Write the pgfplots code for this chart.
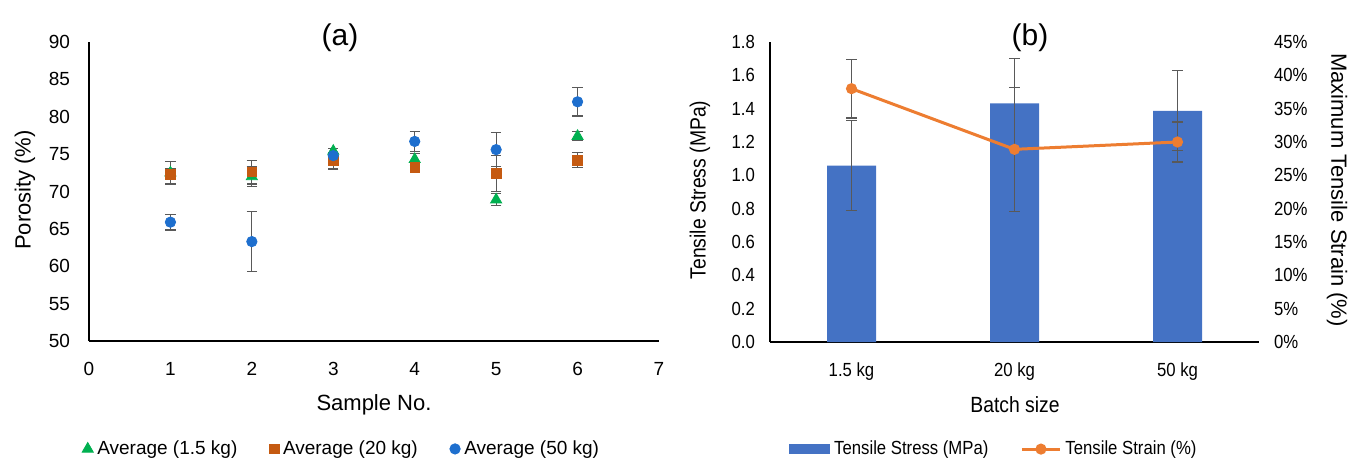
\documentclass[border=0pt]{standalone}
\usepackage{fontspec}
\setmainfont{Liberation Sans}
\usepackage{pgfplots}
\pgfplotsset{compat=1.18}
\definecolor{cgreen}{HTML}{00B050}
\definecolor{corange}{HTML}{C55A11}
\definecolor{cblue}{HTML}{1E6FCE}
\definecolor{barblue}{HTML}{4472C4}
\definecolor{lorange}{HTML}{ED7D31}
\definecolor{ebar}{HTML}{595959}
\newcommand{\tfont}{\fontsize{9.5}{11}\selectfont}
\newcommand{\nar}[1]{\scalebox{0.88}[1]{#1}}
\pgfplotsset{
  common/.style={
    scale only axis, clip=false,
    major tick length=0pt,
    tick label style={font=\tfont, black},
    /pgf/number format/assume math mode=true,
    legend style={draw=none, font=\tfont, /tikz/every even column/.append style={column sep=14pt}},
    legend cell align=left,
  },
  ebars/.style={/pgfplots/error bars/.cd, y dir=both, y explicit,
    error bar style={ebar, line width=0.6pt},
    error mark options={ebar, rotate=90, mark size=2.6pt, line width=0.6pt}, /pgfplots/.cd},
}
\begin{document}
\begin{tikzpicture}
\useasboundingbox (0,0) rectangle (676.5pt,-229.5pt);
\clip (0,0) rectangle (676.5pt,-229.5pt);
% ---------- (a) ----------
\begin{axis}[common,
  at={(44.5pt,-170.5pt)}, anchor=south west,
  width=285pt, height=149.5pt,
  xmin=0, xmax=7, ymin=50, ymax=90,
  axis x line=bottom, axis y line=left,
  axis line style={-, line width=1pt, black},
  xtick={0,1,2,3,4,5,6,7}, ytick={50,55,60,65,70,75,80,85,90},
  xticklabel style={yshift=-7pt}, yticklabel style={xshift=-6pt},
  legend columns=3,
  legend style={at={(0.445,-0.361)}, anchor=center},
]
\addplot[only marks, mark=triangle*, mark size=3.2pt, color=cgreen, ebars]
 coordinates {(1,72.5) +- (0,1.5) (2,72.0) +- (0,1.3) (3,75.4) +- (0,0.3)
              (4,74.3) +- (0,0.8) (5,68.9) +- (0,0.8) (6,77.4) +- (0,0.6)};
\addlegendentry{Average (1.5 kg)}
\addplot[only marks, mark=square*, mark size=2.4pt, color=corange, ebars]
 coordinates {(1,72.3) +- (0,0.7) (2,72.6) +- (0,1.6) (3,74.1) +- (0,1.1)
              (4,73.2) +- (0,0.3) (5,72.4) +- (0,2.4) (6,74.2) +- (0,1.0)};
\addlegendentry{Average (20 kg)}
\addplot[only marks, mark=*, mark size=2.6pt, color=cblue, ebars]
 coordinates {(1,65.9) +- (0,1.05) (2,63.3) +- (0,4.0) (3,74.8) +- (0,0.4)
              (4,76.7) +- (0,1.3) (5,75.6) +- (0,2.3) (6,82.0) +- (0,1.9)};
\addlegendentry{Average (50 kg)}
\end{axis}
% ---------- (b) ----------
\begin{axis}[common,
  at={(385pt,-171pt)}, anchor=south west,
  width=244.5pt, height=150pt,
  xmin=0, xmax=3, ymin=0, ymax=1.8,
  axis x line=bottom, axis y line=left,
  axis line style={-, line width=1pt, black},
  xtick={0.5,1.5,2.5}, xticklabels={\nar{1.5 kg},\nar{20 kg},\nar{50 kg}},
  ytick={0,0.2,0.4,0.6,0.8,1.0,1.2,1.4,1.6,1.8},
  yticklabel={\nar{\pgfmathprintnumber[fixed, fixed zerofill, precision=1]{\tick}}},
  yticklabel style={xshift=-4pt},
  xticklabel style={yshift=-7pt},
]
\addplot[ybar, bar width=24.5pt, fill=barblue, draw=none, ebars]
 coordinates {(0.5,1.058) +- (0,0.27) (1.5,1.432) +- (0,0.27) (2.5,1.387) +- (0,0.24)};
\end{axis}
\begin{axis}[common,
  at={(385pt,-171pt)}, anchor=south west,
  width=244.5pt, height=150pt,
  xmin=0, xmax=3, ymin=0, ymax=45,
  axis x line=none, axis y line=right,
  axis line style={draw=none},
  ytick={0,5,10,15,20,25,30,35,40,45},
  yticklabel={\nar{\pgfmathprintnumber{\tick}\%}},
  yticklabel style={xshift=4pt},
  legend columns=2,
  legend style={at={(0.46,-0.357)}, anchor=center},
]
\addlegendimage{legend image code/.code={\fill[barblue] (0pt,-2.2pt) rectangle (20pt,2.2pt);}}
\addlegendentry{\nar{Tensile Stress (MPa)}}
\addplot[lorange, line width=1.5pt, mark=*, mark size=2pt,
  legend image code/.code={\draw[mark repeat=2,mark phase=2] plot coordinates {(0pt,0pt)(9.5pt,0pt)(19pt,0pt)};}, ebars]
 coordinates {(0.5,38.0) +- (0,4.4) (1.5,28.9) +- (0,9.3) (2.5,30.0) +- (0,3.0)};
\addlegendentry{\nar{Tensile Strain (\%)}}
\end{axis}
% ---------- titles and labels ----------
\node[font=\fontsize{15}{17}\selectfont] at (170pt,-19pt) {(a)};
\node[font=\fontsize{15}{17}\selectfont] at (515pt,-19pt) {(b)};
\node[font=\fontsize{11}{13}\selectfont, rotate=90] at (12.5pt,-95pt) {Porosity (\%)};
\node[font=\fontsize{11}{13}\selectfont] at (187pt,-202.5pt) {Sample No.};
\node[font=\fontsize{11}{13}\selectfont, rotate=90] at (350pt,-95pt) {\nar{Tensile Stress (MPa)}};
\node[font=\fontsize{11}{13}\selectfont, rotate=-90] at (668.5pt,-95pt) {Maximum Tensile Strain (\%)};
\node[font=\fontsize{11}{13}\selectfont] at (507.5pt,-202.5pt) {\nar{Batch size}};
\end{tikzpicture}
\end{document}
